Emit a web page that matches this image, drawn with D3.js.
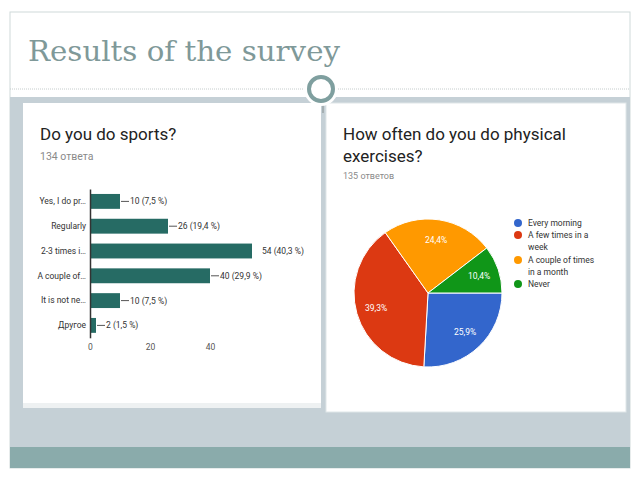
<!DOCTYPE html>
<html>
<head>
<meta charset="utf-8">
<script src="https://cdn.jsdelivr.net/npm/d3@7"></script>
<style>
  body { margin: 0; background: #fff; }
  text { font-family: Roboto, "Noto Sans", sans-serif; }
</style>
</head>
<body>
<svg id="slide" width="640" height="480"></svg>
<script>
var width = 640;
var height = 480;

// left chart: "Do you do sports?"
var sportCats = ["Yes, I do pr…", "Regularly", "2-3 times i…", "A couple of…", "It is not ne…", "Другое"];
var sportCounts = [10, 26, 54, 40, 10, 2];
var sportPct = ["7,5", "19,4", "40,3", "29,9", "7,5", "1,5"];
var sportTicks = [0, 20, 40];

// right chart: "How often do you do physical exercises?"
var freqCats = ["Every morning", "A few times in a week", "A couple of times in a month", "Never"];
var freqLegend = [["Every morning"], ["A few times in a", "week"], ["A couple of times", "in a month"], ["Never"]];
var freqPct = [25.9, 39.3, 24.4, 10.4];
var freqLabels = ["25,9%", "39,3%", "24,4%", "10,4%"];
var freqColors = ["#3366cc", "#dc3912", "#ff9900", "#109618"];

var svg = d3.select("#slide");

// slide background
svg.append("rect")
    .attr("x", 10).attr("y", 12)
    .attr("width", 620).attr("height", 456)
    .attr("fill", "#fff")
    .attr("stroke", "#cfdada");

svg.append("rect")
    .attr("x", 10).attr("y", 97)
    .attr("width", 620).attr("height", 350)
    .attr("fill", "#c5d0d6");

svg.append("rect")
    .attr("x", 10).attr("y", 447)
    .attr("width", 620).attr("height", 21)
    .attr("fill", "#8aabab");

svg.append("line")
    .attr("x1", 10).attr("x2", 630)
    .attr("y1", 89).attr("y2", 89)
    .attr("stroke", "#c5cccc")
    .attr("stroke-dasharray", "1,1");

svg.append("text")
    .attr("x", 28).attr("y", 61)
    .style("font-family", "'DejaVu Serif', serif")
    .style("font-size", "28px")
    .attr("textLength", 312)
    .attr("lengthAdjust", "spacingAndGlyphs")
    .attr("fill", "#7f9999")
    .text("Results of the survey");

// panels
svg.append("rect")
    .attr("x", 23).attr("y", 103)
    .attr("width", 298).attr("height", 305)
    .attr("fill", "#eef1f2");
svg.append("rect")
    .attr("x", 23).attr("y", 103)
    .attr("width", 298).attr("height", 300)
    .attr("fill", "#fff");
svg.append("rect")
    .attr("x", 326).attr("y", 103)
    .attr("width", 300).attr("height", 309)
    .attr("fill", "#fff")
    .attr("stroke", "#dfe6e8");

svg.append("line")
    .attr("x1", 323).attr("x2", 323)
    .attr("y1", 100).attr("y2", 113)
    .attr("stroke", "#9aa4a6")
    .attr("stroke-width", 1.5);

// ornament circle
svg.append("circle")
    .attr("cx", 321).attr("cy", 89).attr("r", 13)
    .attr("fill", "#fff")
    .attr("stroke", "#fff")
    .attr("stroke-width", 8);
svg.append("circle")
    .attr("cx", 321).attr("cy", 89).attr("r", 12)
    .attr("fill", "#fff")
    .attr("stroke", "#7f9f9f")
    .attr("stroke-width", 4);

// ---------- bar chart ----------
svg.append("text")
    .attr("x", 40).attr("y", 140)
    .style("font-size", "17px")
    .attr("fill", "#222")
    .text("Do you do sports?");
svg.append("text")
    .attr("x", 40).attr("y", 160)
    .style("font-size", "10.5px")
    .attr("fill", "#8a8a8a")
    .text("134 ответа");

var x = d3.scaleLinear().domain([0, 60]).range([90, 270]);
var y = d3.scaleBand().domain(sportCats).range([189, 337.8])
    .paddingInner(0.4).paddingOuter(0.2);

var maxCount = d3.max(sportCounts);

var bars = svg.append("g").selectAll("g")
    .data(sportCats)
    .enter().append("g");

bars.append("rect")
    .attr("x", x(0))
    .attr("y", function(d) { return y(d); })
    .attr("width", function(d, i) { return x(sportCounts[i]) - x(0); })
    .attr("height", y.bandwidth())
    .attr("fill", "#266b64");

bars.append("line")
    .attr("x1", function(d, i) { return x(sportCounts[i]) + 1; })
    .attr("x2", function(d, i) { return x(sportCounts[i]) + 9; })
    .attr("y1", function(d) { return y(d) + y.bandwidth() / 2; })
    .attr("y2", function(d) { return y(d) + y.bandwidth() / 2; })
    .attr("stroke", function(d, i) { return sportCounts[i] === maxCount ? "none" : "#555"; });

bars.append("text")
    .attr("x", function(d, i) { return x(sportCounts[i]) + 10; })
    .attr("y", function(d) { return y(d) + y.bandwidth() / 2; })
    .attr("dy", "0.35em")
    .style("font-size", "8.5px")
    .attr("fill", "#333")
    .text(function(d, i) { return sportCounts[i] + " (" + sportPct[i] + " %)"; });

var yAxis = svg.append("g")
    .attr("transform", "translate(" + x(0) + ",0)")
    .call(d3.axisLeft(y).tickSize(0).tickPadding(4));
yAxis.select(".domain")
    .attr("stroke", "#333")
    .attr("stroke-width", 1.5);
yAxis.selectAll("text")
    .style("font-size", "8.5px")
    .style("font-family", "Roboto, sans-serif")
    .attr("fill", "#333");

var xAxis = svg.append("g")
    .attr("transform", "translate(0,342)")
    .call(d3.axisBottom(x).tickValues(sportTicks).tickSize(0).tickPadding(2));
xAxis.select(".domain").remove();
xAxis.selectAll("text")
    .style("font-size", "8.5px")
    .style("font-family", "Roboto, sans-serif")
    .attr("fill", "#555");

// ---------- pie chart ----------
svg.append("text")
    .attr("x", 343).attr("y", 140)
    .style("font-size", "17px")
    .attr("fill", "#222")
    .text("How often do you do physical");
svg.append("text")
    .attr("x", 343).attr("y", 162)
    .style("font-size", "17px")
    .attr("fill", "#222")
    .text("exercises?");
svg.append("text")
    .attr("x", 343).attr("y", 179)
    .style("font-size", "9px")
    .attr("fill", "#8a8a8a")
    .text("135 ответов");

var radius = 74;
var pie = d3.pie().sort(null)
    .startAngle(Math.PI / 2)
    .endAngle(Math.PI / 2 + 2 * Math.PI);
var arc = d3.arc().innerRadius(0).outerRadius(radius);
var labelArc = d3.arc().innerRadius(radius * 0.73).outerRadius(radius * 0.73);

var pieG = svg.append("g").attr("transform", "translate(428,293)");
var slices = pieG.selectAll("g")
    .data(pie(freqPct))
    .enter().append("g");

slices.append("path")
    .attr("d", arc)
    .attr("fill", function(d, i) { return freqColors[i]; })
    .attr("stroke", "#fff")
    .attr("stroke-width", 1);

slices.append("text")
    .attr("transform", function(d) { return "translate(" + labelArc.centroid(d) + ")"; })
    .attr("text-anchor", "middle")
    .attr("dy", "0.35em")
    .style("font-size", "8.5px")
    .attr("fill", "#fff")
    .text(function(d, i) { return freqLabels[i]; });

var legendY = [223, 235, 260, 284];
var legend = svg.append("g").selectAll("g")
    .data(freqCats)
    .enter().append("g")
    .attr("transform", function(d, i) { return "translate(518," + legendY[i] + ")"; });

legend.append("circle")
    .attr("r", 4)
    .attr("fill", function(d, i) { return freqColors[i]; });

legend.append("text")
    .attr("x", 10)
    .style("font-size", "8.5px")
    .attr("fill", "#333")
    .selectAll("tspan")
    .data(function(d, i) { return freqLegend[i]; })
    .enter().append("tspan")
    .attr("x", 10)
    .attr("y", function(d, j) { return j * 12; })
    .attr("dy", "0.35em")
    .text(function(d) { return d; });
</script>
</body>
</html>
